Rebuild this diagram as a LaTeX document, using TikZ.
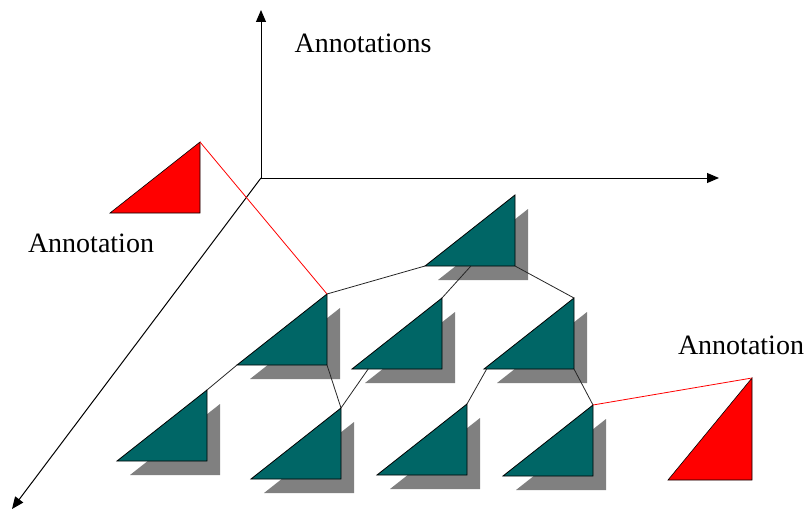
\documentclass[tikz,border=0pt]{standalone}
\usepackage{fontspec}
\setmainfont{Liberation Serif}
\usetikzlibrary{arrows.meta,calc}
\definecolor{tealc}{RGB}{0,102,102}
\definecolor{shadowc}{RGB}{128,128,128}
\begin{document}
\begin{tikzpicture}[x=1pt,y=-1pt,
  axis/.style={line width=1pt,-{Triangle[length=12pt,width=10pt]}},
  link/.style={line width=0.8pt, black!85},
  redlink/.style={line width=0.8pt, red},
  lbl/.style={font=\fontsize{28}{32}\selectfont, inner sep=0pt},
  redtri/.style={fill=red, draw=black, line width=0.6pt},
  tri/.pic={
    \fill[shadowc] (13,14) -- (-77,85) -- (13,85) -- cycle;
    \filldraw[fill=tealc, draw=black, line width=0.8pt] (0,0) -- (-90,71) -- (0,71) -- cycle;
    \coordinate (-top) at (0,0);
    \coordinate (-bl) at (-90,71);
    \coordinate (-br) at (0,71);
  }]
\useasboundingbox (0,0) rectangle (807,511);

% axes
\coordinate (o) at (261,178);
\coordinate (ytip) at (261,10);
\coordinate (xtip) at (719,178);
\coordinate (ztip) at (12,509);
\draw[axis] (o) -- (ytip);
\draw[axis] (o) -- (xtip);
\draw[axis] (o) -- (ztip);

% labels
\node[lbl] (lblaxes) at (363,43) {Annotations};
\node[lbl] (lblL) at (91,243) {Annotation};
\node[lbl] (lblR) at (741,345) {Annotation};

% red annotation triangles
\coordinate (rL-top) at (200,142);
\coordinate (rL-bl) at (110,213);
\coordinate (rL-br) at (200,213);
\draw[redtri] (rL-top) -- (rL-bl) -- (rL-br) -- cycle;
\coordinate (rR-top) at (752,378);
\coordinate (rR-bl) at (668,480);
\coordinate (rR-br) at (752,480);
\draw[redtri] (rR-top) -- (rR-bl) -- (rR-br) -- cycle;

% tree triangles
\pic (t1) at (515,195) {tri};
\pic (l2a) at (327,294) {tri};
\pic (l2b) at (442,298) {tri};
\pic (l2c) at (574,298) {tri};
\pic (l3a) at (207,390) {tri};
\pic (l3b) at (341,408) {tri};
\pic (l3c) at (467,404) {tri};
\pic (l3d) at (593,405) {tri};

% connectors
\draw[link] (t1-bl) -- (l2a-top);
\draw[link] ($(t1-bl)!0.51!(t1-br)$) -- (l2b-top);
\draw[link] (t1-br) -- (l2c-top);
\draw[link] (l2a-bl) -- (l3a-top);
\draw[link] (l2a-br) -- (l3b-top);
\draw[link] ($(l2b-bl)!0.18!(l2b-br)$) -- (l3b-top);
\draw[link] ($(l2c-bl)!0.03!(l2c-br)$) -- (l3c-top);
\draw[link] (l2c-br) -- (l3d-top);

\draw[redlink] (rL-top) -- (l2a-top);
\draw[redlink] (rR-top) -- (l3d-top);
\end{tikzpicture}
\end{document}
